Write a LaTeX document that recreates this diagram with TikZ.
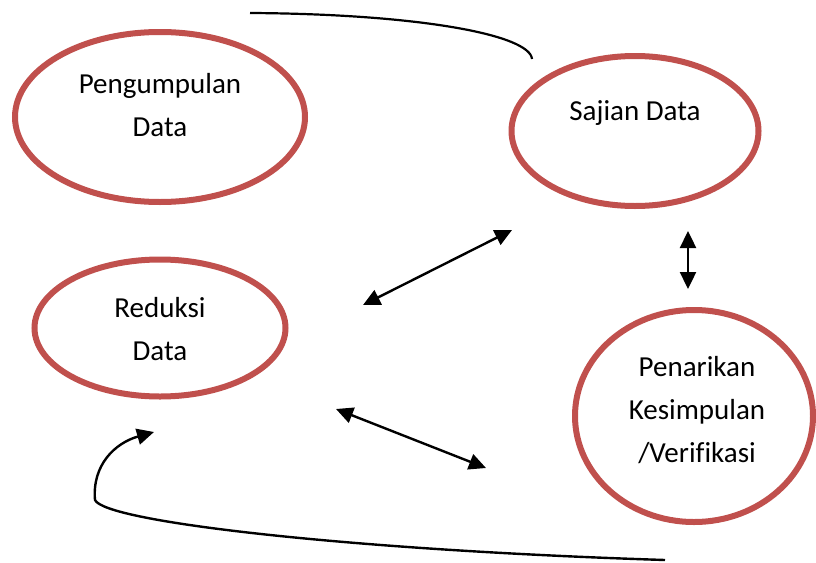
\documentclass[tikz,border=0pt]{standalone}
\usepackage{fontspec}
\setmainfont[Ligatures=NoCommon]{Carlito}
\usetikzlibrary{arrows.meta,shapes.geometric}
\definecolor{bubblered}{RGB}{192,80,77}
\tikzset{
	bubble/.style={draw=bubblered, line width=6pt, ellipse},
	txt/.style={align=center, font=\fontsize{29}{43}\selectfont, inner sep=0pt},
	link/.style={line width=2.4pt, {Triangle[length=17pt,width=16pt]}-{Triangle[length=17pt,width=16pt]}},
}
\begin{document}
\begin{tikzpicture}[x=1pt, y=-1pt]
		\useasboundingbox (0,0) rectangle (816,562);

		\node[bubble, minimum width=290pt, minimum height=170pt] (pengumpulan) at (160,117) {};
		\node[bubble, minimum width=247pt, minimum height=150pt] (sajian) at (635,131) {};
		\node[bubble, minimum width=251pt, minimum height=137pt] (reduksi) at (160,328) {};
		\node[bubble, minimum width=238pt, minimum height=212pt] (penarikan) at (694,416) {};

		\node[txt] (t1) at (160,105) {Pengumpulan\\Data};
		\node[txt] (t2) at (635,113) {Sajian Data};
		\node[txt] (t3) at (160,329) {Reduksi\\Data};
		\node[txt] (t4) at (697,410) {Penarikan\\Kesimpulan\\/Verifikasi};

		\coordinate (a1) at (363,305);
		\coordinate (a2) at (512,230);
		\coordinate (b1) at (336,409);
		\coordinate (b2) at (486,468);
		\coordinate (c1) at (688,231);
		\coordinate (c2) at (688,289);
		\coordinate (top1) at (250,13);
		\coordinate (top2) at (532,59);
		\coordinate (bot1) at (665,560);
		\coordinate (bot2) at (95,500);
		\coordinate (bot3) at (154,432);

		\draw[link] (a1) -- (a2);
		\draw[link] (b1) -- (b2);
		\draw[link] (c1) -- (c2);

		\draw[line width=2.2pt] (top1) .. controls (420,14) and (530,35) .. (top2);
		\draw[line width=2.4pt, -{Triangle[length=17pt,width=16pt]}] (bot1) .. controls (350,550) and (105,522) .. (bot2) .. controls (92,465) and (115,443) .. (bot3);
	\end{tikzpicture}
\end{document}
